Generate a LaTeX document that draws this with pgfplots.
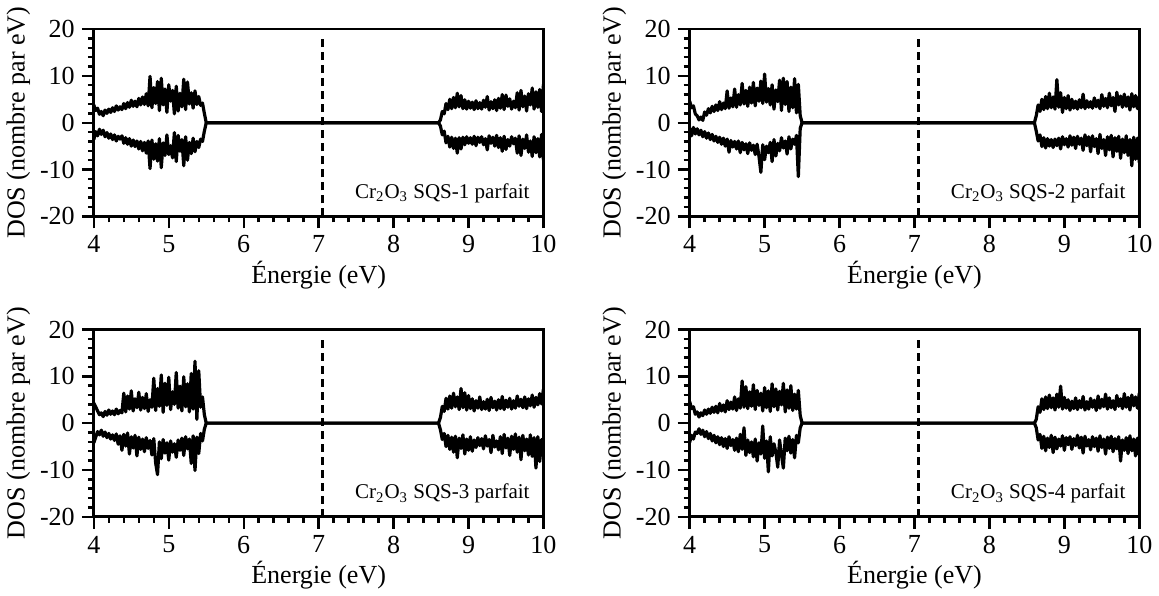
\documentclass[border=0pt]{standalone}
\usepackage{fontspec}
\setmainfont{Liberation Serif}
\usepackage{pgfplots}
\usepackage{pgfplotstable}
\pgfplotsset{compat=1.18}

\pgfplotstableread{
x up dn
4.000 3.8 -3.6
4.025 2.6 -1.9
4.050 3.1 -2.8
4.075 1.8 -1.4
4.100 2.4 -2.5
4.125 1.5 -1.6
4.150 2.7 -3.0
4.175 2.0 -2.1
4.200 2.9 -3.3
4.225 2.2 -2.4
4.250 3.2 -3.6
4.275 2.4 -2.6
4.300 3.6 -3.9
4.325 2.7 -2.9
4.350 3.4 -3.5
4.375 2.8 -2.8
4.400 4.1 -4.4
4.425 3.0 -3.2
4.450 4.3 -4.6
4.475 3.3 -3.4
4.500 4.8 -5.0
4.525 3.5 -3.7
4.550 4.6 -5.1
4.575 3.4 -3.9
4.600 5.2 -5.6
4.625 3.8 -4.0
4.650 5.5 -6.0
4.675 3.9 -4.2
4.700 6.2 -6.5
4.725 3.6 -3.9
4.750 9.9 -9.8
4.775 3.2 -3.7
4.800 7.5 -7.8
4.825 4.1 -4.5
4.850 8.8 -8.2
4.875 2.6 -3.4
4.900 9.5 -9.6
4.925 3.8 -4.3
4.950 7.2 -7.0
4.975 2.2 -2.6
5.000 8.1 -6.8
5.025 4.6 -4.9
5.050 6.9 -7.5
5.075 1.9 -2.1
5.100 7.8 -8.3
5.125 2.5 -2.7
5.150 6.3 -6.1
5.175 3.4 -3.6
5.200 9.3 -9.2
5.225 2.8 -3.0
5.250 8.7 -8.0
5.275 4.0 -4.2
5.300 6.4 -6.6
5.325 3.1 -3.3
5.350 6.8 -6.2
5.375 3.9 -4.0
5.400 5.6 -5.3
5.425 3.7 -3.5
5.450 4.2 -4.0
5.475 2.0 -1.8
5.500 0 0
8.600 0 0
8.625 0.6 -0.7
8.650 2.4 -2.6
8.675 1.9 -1.8
8.700 4.1 -4.3
8.725 2.8 -2.9
8.750 5.0 -5.2
8.775 3.0 -3.1
8.800 5.4 -5.5
8.825 3.2 -3.3
8.850 6.3 -6.5
8.875 3.4 -3.2
8.900 5.8 -5.6
8.925 3.0 -3.1
8.950 4.9 -4.7
8.975 2.9 -3.0
9.000 4.6 -4.4
9.025 3.1 -3.2
9.050 4.4 -4.6
9.075 2.8 -2.9
9.100 4.7 -4.9
9.125 3.0 -3.1
9.150 4.3 -4.2
9.175 2.9 -3.0
9.200 4.8 -4.7
9.225 3.3 -3.4
9.250 5.6 -5.8
9.275 2.7 -2.8
9.300 4.5 -4.4
9.325 3.0 -3.1
9.350 4.9 -5.0
9.375 2.6 -2.7
9.400 5.2 -5.3
9.425 3.1 -3.2
9.450 6.0 -6.1
9.475 2.8 -2.9
9.500 5.9 -5.7
9.525 3.5 -3.6
9.550 5.1 -5.0
9.575 2.9 -3.0
9.600 4.6 -4.5
9.625 3.2 -3.3
9.650 6.4 -6.5
9.675 2.7 -2.8
9.700 6.9 -7.0
9.725 3.4 -3.5
9.750 5.7 -5.5
9.775 2.5 -2.6
9.800 6.2 -6.3
9.825 3.8 -3.9
9.850 7.4 -7.2
9.875 2.9 -3.0
9.900 6.6 -6.4
9.925 3.3 -3.4
9.950 7.1 -7.3
9.975 2.4 -2.5
10.000 8.2 -8.0
}\tA

\pgfplotstableread{
x up dn
4.000 4.6 -1.2
4.025 3.2 -2.8
4.050 3.6 -1.0
4.075 1.9 -2.4
4.100 1.5 -1.3
4.125 0.6 -2.6
4.150 1.2 -1.6
4.175 0.5 -3.0
4.200 2.3 -1.9
4.225 1.6 -3.3
4.250 3.0 -2.2
4.275 2.1 -3.6
4.300 3.5 -2.5
4.325 2.4 -3.9
4.350 3.8 -2.9
4.375 2.6 -4.2
4.400 4.5 -3.1
4.425 2.8 -4.6
4.450 4.2 -3.3
4.475 3.0 -5.0
4.500 6.8 -3.5
4.525 3.1 -6.3
4.550 5.3 -3.8
4.575 3.4 -5.2
4.600 7.2 -4.0
4.625 3.3 -5.6
4.650 6.0 -3.9
4.675 3.8 -6.4
4.700 8.4 -4.2
4.725 4.0 -5.8
4.750 6.9 -4.5
4.775 3.5 -6.6
4.800 7.6 -4.3
4.825 4.2 -5.9
4.850 8.6 -4.8
4.875 3.6 -6.8
4.900 7.4 -4.6
4.925 4.6 -7.2
4.950 8.9 -10.6
4.975 4.1 -4.7
5.000 10.4 -7.9
5.025 4.4 -5.0
5.050 7.3 -6.4
5.075 3.8 -4.2
5.100 8.1 -8.3
5.125 2.9 -3.6
5.150 7.0 -7.1
5.175 4.5 -4.4
5.200 9.1 -6.0
5.225 2.6 -3.2
5.250 9.5 -5.4
5.275 3.9 -3.9
5.300 8.8 -6.7
5.325 2.4 -3.0
5.350 7.6 -5.6
5.375 3.2 -3.5
5.400 9.4 -4.6
5.425 2.1 -2.7
5.450 8.2 -11.5
5.475 1.5 -1.2
5.500 0 0
8.600 0 0
8.625 1.5 -1.8
8.650 3.8 -3.9
8.675 2.4 -2.6
8.700 5.0 -5.1
8.725 2.8 -3.2
8.750 5.6 -5.4
8.775 3.0 -3.4
8.800 6.3 -5.0
8.825 3.2 -3.6
8.850 5.5 -5.3
8.875 2.9 -3.5
8.900 9.2 -4.9
8.925 3.3 -3.3
8.950 6.4 -5.6
8.975 2.2 -3.0
9.000 5.4 -4.7
9.025 3.0 -3.4
9.050 5.8 -5.2
9.075 2.7 -2.8
9.100 5.0 -4.8
9.125 3.1 -3.1
9.150 4.6 -5.5
9.175 2.9 -2.9
9.200 4.9 -4.6
9.225 3.2 -3.3
9.250 6.1 -5.9
9.275 3.0 -2.6
9.300 4.7 -4.9
9.325 3.3 -3.0
9.350 4.5 -6.2
9.375 3.1 -2.8
9.400 5.3 -5.1
9.425 3.4 -3.4
9.450 4.8 -6.6
9.475 3.0 -2.5
9.500 6.0 -5.5
9.525 3.5 -3.6
9.550 5.2 -7.0
9.575 3.2 -3.0
9.600 6.3 -5.8
9.625 3.6 -2.7
9.650 5.4 -7.3
9.675 2.4 -3.2
9.700 6.5 -6.1
9.725 3.8 -2.9
9.750 5.7 -7.6
9.775 3.3 -3.5
9.800 6.1 -6.4
9.825 3.5 -2.8
9.850 5.5 -7.0
9.875 2.7 -3.6
9.900 6.2 -9.2
9.925 3.4 -3.1
9.950 5.8 -7.8
9.975 3.0 -3.3
10.000 5.6 -8.5
}\tB

\pgfplotstableread{
x up dn
4.000 4.3 -4.2
4.025 3.5 -3.0
4.050 2.6 -1.8
4.075 1.8 -2.5
4.100 2.2 -1.5
4.125 1.4 -2.8
4.150 2.5 -1.9
4.175 1.7 -3.1
4.200 2.8 -2.2
4.225 1.9 -3.4
4.250 2.6 -2.5
4.275 1.8 -3.7
4.300 3.0 -2.3
4.325 2.0 -4.5
4.350 2.7 -2.7
4.375 2.2 -5.8
4.400 6.4 -2.4
4.425 2.4 -4.9
4.450 5.8 -2.1
4.475 3.0 -6.6
4.500 6.9 -2.9
4.525 2.6 -5.3
4.550 5.2 -2.6
4.575 3.3 -7.0
4.600 6.6 -3.0
4.625 2.8 -5.6
4.650 5.5 -3.4
4.675 3.1 -6.1
4.700 6.3 -3.1
4.725 2.5 -5.4
4.750 5.0 -3.7
4.775 3.4 -6.8
4.800 9.6 -3.3
4.825 2.7 -8.5
4.850 7.4 -11.0
4.875 3.6 -4.0
4.900 10.3 -7.6
4.925 2.3 -3.5
4.950 8.5 -6.4
4.975 3.8 -4.2
5.000 9.8 -7.9
5.025 2.9 -3.8
5.050 6.7 -6.2
5.075 4.0 -4.4
5.100 10.8 -7.3
5.125 3.2 -3.6
5.150 7.9 -5.8
5.175 2.6 -3.2
5.200 9.9 -6.9
5.225 3.5 -2.9
5.250 8.4 -5.5
5.275 2.4 -3.4
5.300 10.6 -8.6
5.325 3.0 -2.7
5.350 13.2 -10.1
5.375 0.8 -3.0
5.400 11.2 -6.5
5.425 3.4 -2.2
5.450 5.6 -3.8
5.475 1.8 -1.3
5.500 0 0
8.600 0 0
8.625 1.2 -1.4
8.650 3.6 -3.5
8.675 2.5 -2.2
8.700 5.3 -5.0
8.725 3.0 -2.6
8.750 5.8 -5.6
8.775 3.2 -3.0
8.800 6.4 -6.2
8.825 3.5 -2.8
8.850 5.6 -7.4
8.875 2.9 -3.2
8.900 7.4 -5.4
8.925 3.3 -2.5
8.950 6.5 -6.6
8.975 2.8 -3.4
9.000 5.9 -5.8
9.025 3.1 -2.9
9.050 5.2 -6.0
9.075 2.6 -3.6
9.100 4.8 -5.2
9.125 3.2 -3.1
9.150 5.6 -4.8
9.175 2.9 -3.3
9.200 4.6 -5.5
9.225 3.0 -2.7
9.250 5.1 -4.9
9.275 2.7 -3.5
9.300 5.5 -6.3
9.325 3.3 -2.6
9.350 4.7 -5.1
9.375 2.8 -3.8
9.400 5.0 -5.7
9.425 3.1 -2.9
9.450 5.7 -6.5
9.475 2.9 -2.4
9.500 4.9 -5.3
9.525 3.4 -3.2
9.550 5.3 -6.9
9.575 3.0 -2.8
9.600 4.8 -5.6
9.625 3.2 -2.3
9.650 5.8 -6.2
9.675 3.6 -3.0
9.700 5.1 -7.8
9.725 3.3 -2.6
9.750 5.6 -5.9
9.775 3.1 -3.4
9.800 5.2 -6.8
9.825 3.7 -2.5
9.850 6.0 -7.1
9.875 3.4 -3.1
9.900 5.5 -9.6
9.925 3.9 -2.9
9.950 6.3 -8.2
9.975 4.1 -3.5
10.000 7.3 -6.0
}\tC

\pgfplotstableread{
x up dn
4.000 4.6 -4.1
4.025 3.1 -2.6
4.050 3.5 -3.4
4.075 1.9 -1.9
4.100 2.4 -2.2
4.125 1.3 -1.2
4.150 2.2 -2.4
4.175 1.6 -1.5
4.200 2.8 -2.9
4.225 1.9 -1.8
4.250 3.0 -3.3
4.275 2.1 -2.2
4.300 3.4 -3.8
4.325 2.3 -2.6
4.350 3.6 -4.2
4.375 2.2 -2.9
4.400 4.2 -4.6
4.425 2.6 -3.1
4.450 3.9 -5.0
4.475 2.4 -3.3
4.500 4.8 -5.4
4.525 2.9 -2.9
4.550 4.5 -4.8
4.575 3.0 -3.5
4.600 5.6 -5.8
4.625 2.7 -3.2
4.650 5.2 -6.1
4.675 3.2 -2.4
4.700 9.0 -5.6
4.725 3.4 -1.0
4.750 7.8 -6.9
4.775 3.1 -3.6
4.800 6.7 -6.3
4.825 3.6 -4.0
4.850 8.2 -7.2
4.875 2.9 -3.4
4.900 7.0 -8.1
4.925 3.8 -4.2
4.950 6.4 -6.6
4.975 2.6 -0.6
5.000 7.6 -7.5
5.025 3.3 -3.8
5.050 6.9 -10.4
5.075 2.5 -2.9
5.100 8.4 -7.0
5.125 3.5 -4.4
5.150 7.3 -6.2
5.175 2.8 -9.4
5.200 6.8 -3.6
5.225 3.9 -6.8
5.250 8.5 -9.6
5.275 2.4 -3.2
5.300 7.1 -5.9
5.325 3.2 -2.8
5.350 8.0 -6.4
5.375 2.7 -3.5
5.400 6.2 -7.4
5.425 3.0 -2.6
5.450 7.0 -4.2
5.475 1.6 -1.0
5.500 0 0
8.600 0 0
8.625 0.8 -1.0
8.650 3.5 -3.6
8.675 2.3 -2.4
8.700 5.2 -5.4
8.725 2.9 -2.8
8.750 5.6 -5.9
8.775 3.1 -3.2
8.800 6.0 -5.2
8.825 3.3 -2.6
8.850 5.4 -6.3
8.875 2.8 -3.0
8.900 6.2 -5.5
8.925 3.4 -3.4
8.950 7.9 -4.9
8.975 3.0 -2.7
9.000 5.5 -5.8
9.025 3.2 -3.1
9.050 5.0 -4.6
9.075 2.7 -2.9
9.100 4.7 -5.6
9.125 3.1 -3.3
9.150 5.4 -4.8
9.175 2.9 -2.6
9.200 4.8 -5.3
9.225 3.3 -3.0
9.250 5.7 -6.4
9.275 2.8 -2.8
9.300 4.6 -4.9
9.325 3.0 -3.5
9.350 5.3 -5.7
9.375 3.4 -2.9
9.400 4.9 -5.0
9.425 2.7 -3.2
9.450 5.8 -6.0
9.475 3.2 -2.7
9.500 5.1 -5.2
9.525 3.5 -3.4
9.550 6.2 -6.6
9.575 3.0 -3.0
9.600 5.4 -5.4
9.625 3.3 -2.8
9.650 4.8 -6.1
9.675 2.9 -3.3
9.700 5.9 -5.5
9.725 3.6 -2.9
9.750 5.2 -8.1
9.775 3.1 -3.6
9.800 6.3 -5.8
9.825 3.4 -3.1
9.850 5.5 -6.5
9.875 2.8 -2.7
9.900 6.0 -5.9
9.925 3.7 -3.4
9.950 5.6 -7.0
9.975 3.2 -3.2
10.000 6.4 -6.8
}\tD

\pgfplotsset{
  dosax/.style={
    scale only axis, width=224.5pt, height=93.5pt,
    xmin=4, xmax=10, ymin=-20, ymax=20,
    xtick={4,5,6,7,8,9,10}, ytick={-20,-10,0,10,20},
    minor x tick num=4, minor y tick num=4,
    tick align=outside, major tick length=6pt, minor tick length=3pt,
    xtick pos=bottom, ytick pos=left,
    axis line style={line width=1.4pt},
    every tick/.style={black, line width=1.2pt},
    xlabel={Énergie (eV)}, ylabel={DOS (nombre par eV)},
    ticklabel style={font=\fontsize{13}{15}\selectfont},
    label style={font=\fontsize{13}{15}\selectfont},
    xlabel style={yshift=3pt},
    ylabel style={yshift=-2pt},
    /pgf/number format/assume math mode=true,
    clip=true,
  },
}
\tikzset{
  dosline/.style={black, line width=1.6pt, line join=round},
  fermi/.style={black, line width=1.4pt, dash pattern=on 4pt off 2.5pt},
  lab/.style={anchor=south east, inner sep=0pt, font=\fontsize{10.5}{12}\selectfont},
}

\begin{document}
\begin{tikzpicture}
\begin{axis}[dosax, at={(0pt,150pt)}]
\addplot[dosline, no markers] table[x=x,y=up] {\tA};
\addplot[dosline, no markers] table[x=x,y=dn] {\tA};
\addplot[fermi, no markers] coordinates {(7.05,-20) (7.05,18.3)};
\node[lab] at (rel axis cs:0.97,0.07) {Cr\textsubscript{2}O\textsubscript{3} SQS-1 parfait};
\end{axis}
\begin{axis}[dosax, at={(297.5pt,150pt)}]
\addplot[dosline, no markers] table[x=x,y=up] {\tB};
\addplot[dosline, no markers] table[x=x,y=dn] {\tB};
\addplot[fermi, no markers] coordinates {(7.05,-20) (7.05,18.3)};
\node[lab] at (rel axis cs:0.97,0.07) {Cr\textsubscript{2}O\textsubscript{3} SQS-2 parfait};
\end{axis}
\begin{axis}[dosax, at={(0pt,0pt)}]
\addplot[dosline, no markers] table[x=x,y=up] {\tC};
\addplot[dosline, no markers] table[x=x,y=dn] {\tC};
\addplot[fermi, no markers] coordinates {(7.05,-20) (7.05,18.3)};
\node[lab] at (rel axis cs:0.97,0.07) {Cr\textsubscript{2}O\textsubscript{3} SQS-3 parfait};
\end{axis}
\begin{axis}[dosax, at={(297.5pt,0pt)}]
\addplot[dosline, no markers] table[x=x,y=up] {\tD};
\addplot[dosline, no markers] table[x=x,y=dn] {\tD};
\addplot[fermi, no markers] coordinates {(7.05,-20) (7.05,18.3)};
\node[lab] at (rel axis cs:0.97,0.07) {Cr\textsubscript{2}O\textsubscript{3} SQS-4 parfait};
\end{axis}
\end{tikzpicture}
\end{document}
